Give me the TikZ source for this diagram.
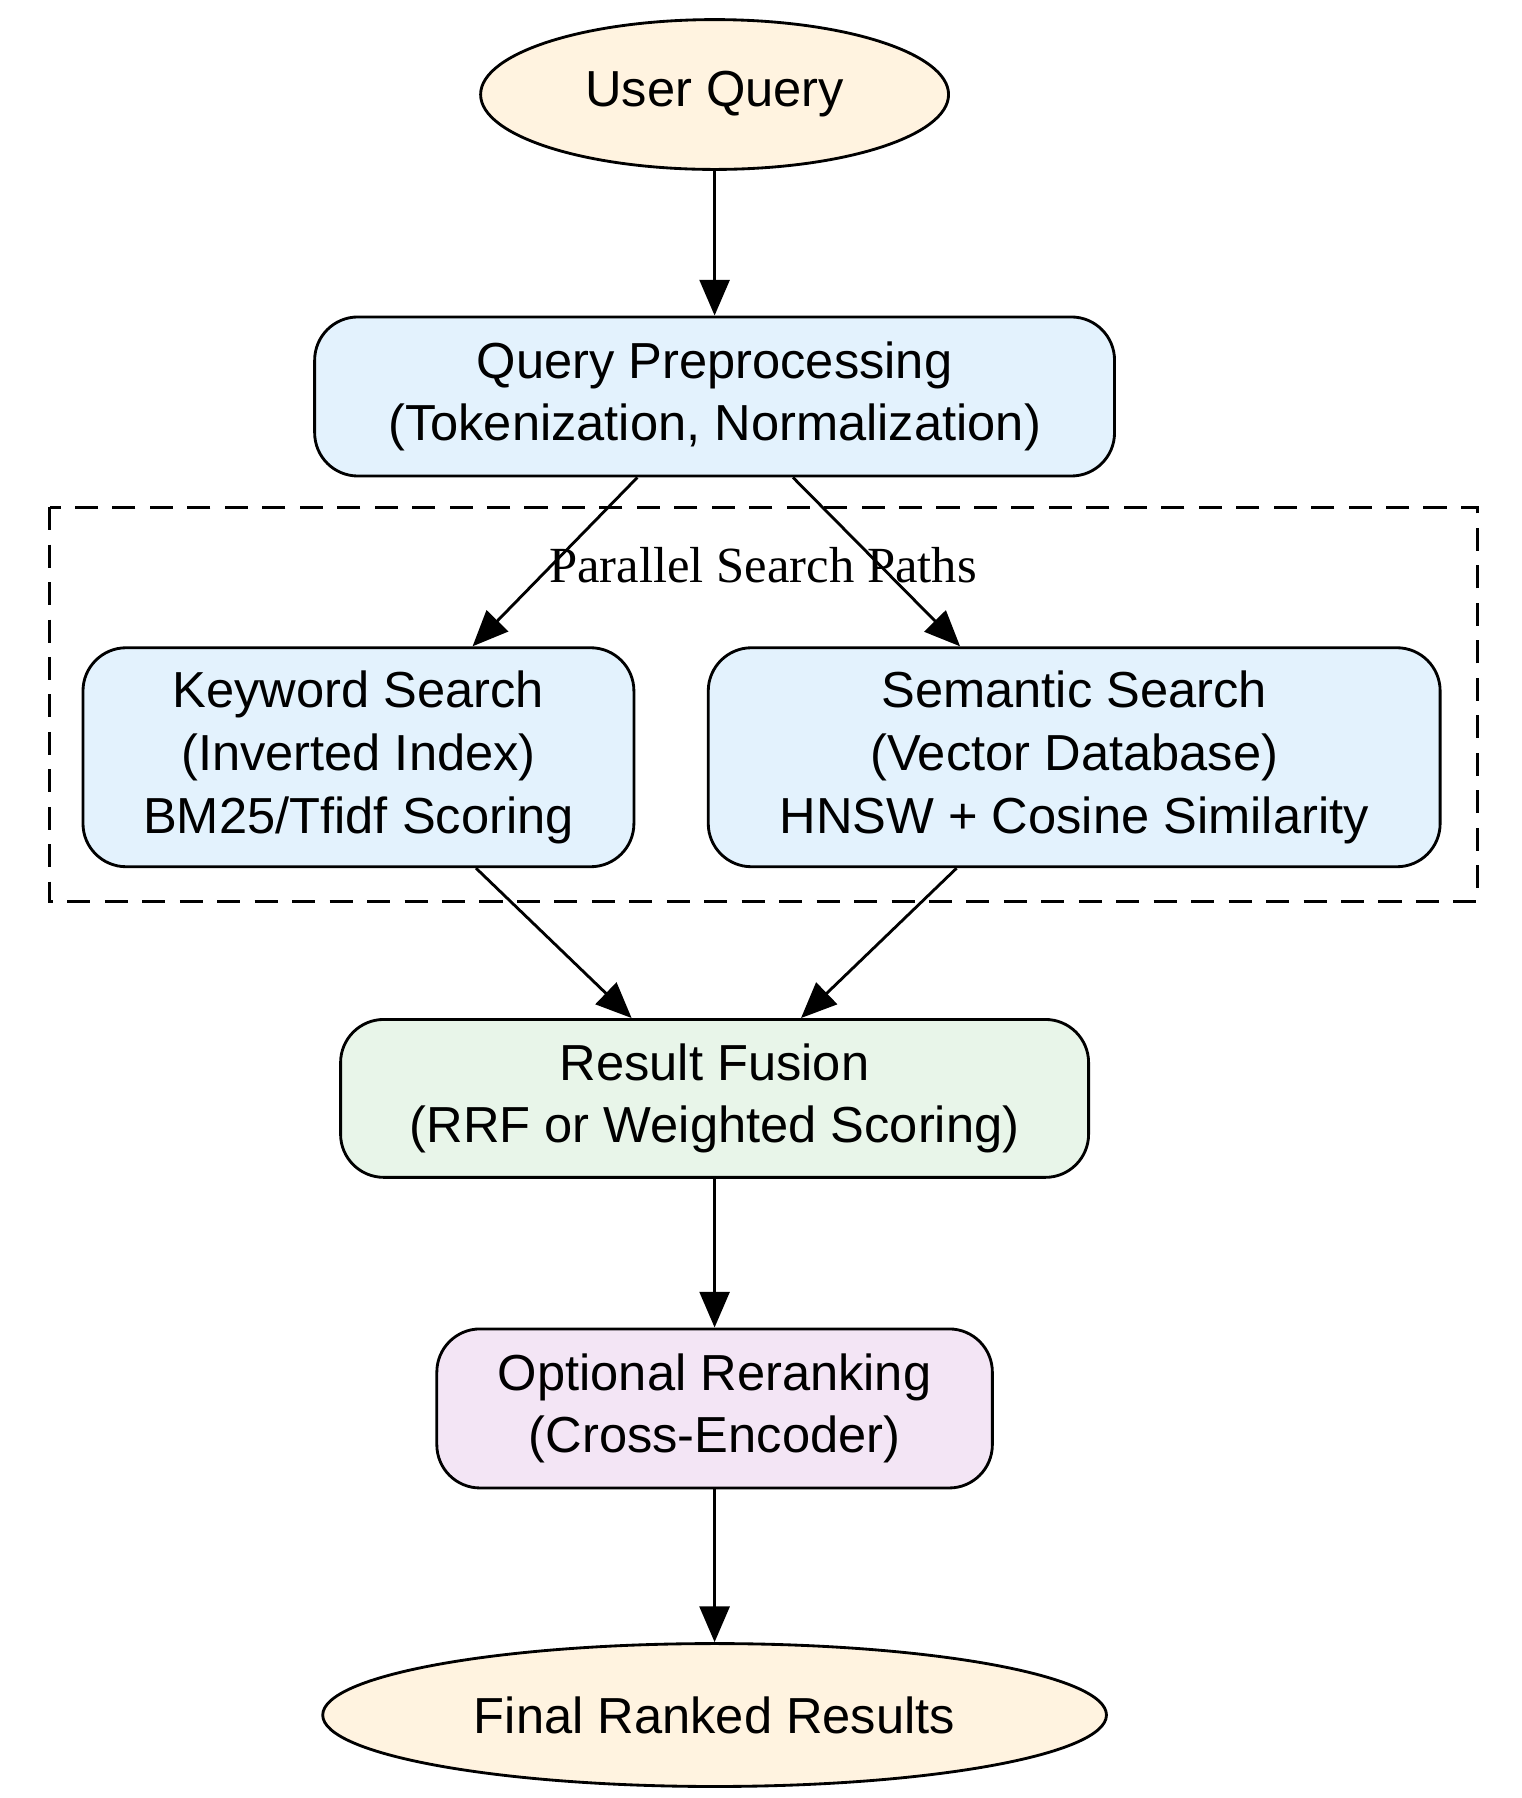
\documentclass[tikz,border=0pt]{standalone}
\usepackage{fontspec}
\setmainfont{Liberation Sans}
\newfontfamily\labelfont{Liberation Serif}
\usetikzlibrary{shapes.geometric,arrows.meta}
\definecolor{termfill}{HTML}{FFF3E0}
\definecolor{stepfill}{HTML}{E3F2FD}
\definecolor{fusefill}{HTML}{E8F5E9}
\definecolor{rankfill}{HTML}{F3E5F5}
\tikzset{
  term/.style={ellipse,draw,line width=1.4pt,fill=termfill,inner sep=0pt},
  stage/.style={draw,rounded corners=0.75cm,line width=1.4pt,fill=stepfill,align=center,inner sep=0pt},
  flow/.style={line width=1.4pt,-{Triangle[length=0.62cm,width=0.52cm]}},
}
\begin{document}
\begin{tikzpicture}[font=\fontsize{25}{31}\selectfont]
\useasboundingbox (0,0) rectangle (26.4,-31.2);

% group of the parallel paths
\draw[dashed,line width=1.4pt,dash pattern=on 0.4cm off 0.25cm] (0.86,-8.8) rectangle (25.64,-15.64);
\node (grp) at (13.24,-9.8) {\labelfont Parallel Search Paths};

\node[term,minimum width=8.12cm,minimum height=2.6cm] (query) at (12.4,-1.64) {User Query};
\node[stage,minimum width=13.88cm,minimum height=2.76cm] (pre) at (12.4,-6.88) {Query Preprocessing\\(Tokenization, Normalization)};
\node[stage,minimum width=9.56cm,minimum height=3.8cm] (kw) at (6.22,-13.14) {Keyword Search\\(Inverted Index)\\BM25/Tfidf Scoring};
\node[stage,minimum width=12.7cm,minimum height=3.8cm] (sem) at (18.64,-13.14) {Semantic Search\\(Vector Database)\\HNSW + Cosine Similarity};
\node[stage,fill=fusefill,minimum width=12.98cm,minimum height=2.74cm] (fuse) at (12.4,-19.06) {Result Fusion\\(RRF or Weighted Scoring)};
\node[stage,fill=rankfill,minimum width=9.64cm,minimum height=2.76cm] (rank) at (12.4,-24.44) {Optional Reranking\\(Cross-Encoder)};
\node[term,minimum width=13.6cm,minimum height=2.48cm] (final) at (12.4,-29.76) {Final Ranked Results};

\draw[flow] (query) -- (pre);
\draw[flow] ([xshift=-1.34cm]pre.south) -- ([xshift=1.98cm]kw.north);
\draw[flow] ([xshift=1.36cm]pre.south) -- ([xshift=-1.98cm]sem.north);
\draw[flow] ([xshift=2.04cm]kw.south) -- ([xshift=-1.44cm]fuse.north);
\draw[flow] ([xshift=-2.04cm]sem.south) -- ([xshift=1.5cm]fuse.north);
\draw[flow] (fuse) -- (rank);
\draw[flow] (rank) -- (final);
\end{tikzpicture}
\end{document}
